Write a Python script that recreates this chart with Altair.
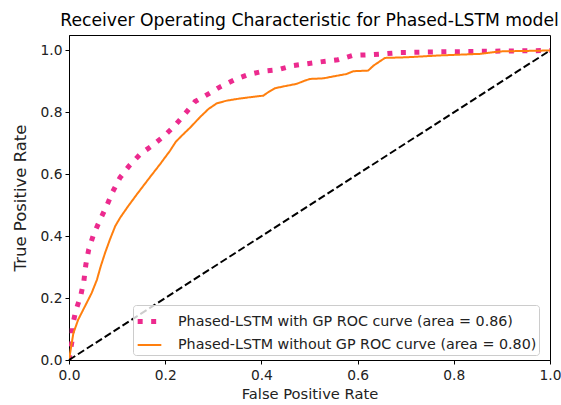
import altair as alt
import pandas as pd

LABEL_GP = "Phased-LSTM with GP ROC curve (area = 0.86)"
LABEL_NOGP = "Phased-LSTM without GP ROC curve (area = 0.80)"

gp_fpr = [0.0, 0.006, 0.007, 0.014, 0.024, 0.031, 0.035, 0.041, 0.051, 0.064, 0.078,
          0.091, 0.106, 0.125, 0.148, 0.174, 0.198, 0.220, 0.241, 0.262, 0.290, 0.316,
          0.345, 0.373, 0.404, 0.435, 0.466, 0.494, 0.527, 0.559, 0.590, 0.621, 0.654,
          0.685, 0.75, 0.85, 0.95, 1.0]
gp_tpr = [0.0, 0.059, 0.108, 0.159, 0.205, 0.256, 0.308, 0.357, 0.405, 0.451, 0.497,
          0.544, 0.589, 0.627, 0.665, 0.694, 0.724, 0.757, 0.795, 0.835, 0.860, 0.884,
          0.906, 0.922, 0.933, 0.938, 0.951, 0.957, 0.964, 0.970, 0.984, 0.986, 0.989,
          0.993, 0.995, 0.997, 0.999, 1.0]

nogp_fpr = [0.0, 0.009, 0.019, 0.033, 0.047, 0.058, 0.066, 0.075, 0.085, 0.096, 0.106,
            0.123, 0.141, 0.165, 0.189, 0.210, 0.222, 0.234, 0.252, 0.272, 0.290, 0.307,
            0.328, 0.356, 0.376, 0.404, 0.414, 0.428, 0.453, 0.473, 0.491, 0.501, 0.529,
            0.549, 0.577, 0.591, 0.622, 0.633, 0.657, 0.702, 0.771, 0.854, 0.896, 1.0]
nogp_tpr = [0.0, 0.086, 0.130, 0.173, 0.216, 0.259, 0.303, 0.346, 0.389, 0.432, 0.459,
            0.497, 0.535, 0.584, 0.632, 0.676, 0.705, 0.724, 0.751, 0.784, 0.811, 0.829,
            0.838, 0.845, 0.849, 0.854, 0.865, 0.878, 0.886, 0.892, 0.903, 0.908, 0.910,
            0.916, 0.924, 0.933, 0.935, 0.951, 0.976, 0.978, 0.984, 0.989, 0.997, 1.0]

diag = [0.0, 1.0]

rows = []
for i, (x, y) in enumerate(zip(gp_fpr, gp_tpr)):
    rows.append({"fpr": x, "tpr": y, "series": LABEL_GP, "i": i})
for i, (x, y) in enumerate(zip(nogp_fpr, nogp_tpr)):
    rows.append({"fpr": x, "tpr": y, "series": LABEL_NOGP, "i": i})
df = pd.DataFrame(rows)
df_diag = pd.DataFrame({"fpr": diag, "tpr": diag})

FONT = "DejaVu Sans"
xs = alt.Scale(domain=[0, 1.0], nice=False, zero=False)
ys = alt.Scale(domain=[0, 1.05], nice=False, zero=False)
ticks = [0.0, 0.2, 0.4, 0.6, 0.8, 1.0]

curves = alt.Chart(df).mark_line(strokeCap="butt", clip=True).encode(
    x=alt.X("fpr:Q", scale=xs,
            axis=alt.Axis(values=ticks, format=".1f", title="False Positive Rate",
                          titleFontSize=14.7, titlePadding=5, labelPadding=4)),
    y=alt.Y("tpr:Q", scale=ys,
            axis=alt.Axis(values=ticks, format=".1f", title="True Positive Rate",
                          titleFontSize=16.5, titlePadding=12, labelPadding=3)),
    order="i:Q",
    color=alt.Color("series:N", scale=alt.Scale(domain=[LABEL_GP, LABEL_NOGP],
                                                range=["#ec2a8e", "#ff7f0e"]),
                    legend=alt.Legend(
                        title=None, orient="none", legendX=64, legendY=270,
                        symbolType="stroke", symbolSize=560,
                        labelFont=FONT, labelFontSize=14.3, labelColor="#222222",
                        fillColor="rgba(255,255,255,0.8)", strokeColor="#cccccc",
                        padding=2, cornerRadius=3, rowPadding=0, labelOffset=14,
                        labelLimit=500)),
    strokeDash=alt.StrokeDash("series:N", scale=alt.Scale(domain=[LABEL_GP, LABEL_NOGP],
                                                          range=[[5, 8.5], [1, 0]]),
                              legend=None),
    strokeWidth=alt.StrokeWidth("series:N", scale=alt.Scale(domain=[LABEL_GP, LABEL_NOGP],
                                                            range=[5, 2]),
                                legend=None),
)

diagonal = alt.Chart(df_diag).mark_line(color="black", strokeWidth=2,
                                        strokeDash=[7.4, 3.2], strokeCap="butt").encode(
    x=alt.X("fpr:Q", scale=xs),
    y=alt.Y("tpr:Q", scale=ys),
)

chart = alt.layer(curves, diagonal).properties(
    width=481, height=325,
    title=alt.TitleParams("Receiver Operating Characteristic for Phased-LSTM model",
                          font=FONT, fontSize=17.2, fontWeight="normal", color="black",
                          anchor="middle", offset=6),
    autosize=alt.AutoSizeParams(type="none"),
    padding={"left": 69, "top": 35, "right": 11, "bottom": 45},
).configure_view(
    stroke="black", strokeWidth=1,
).configure_axis(
    grid=False, domainColor="black", domainWidth=1, tickColor="black", tickSize=4,
    labelFont=FONT, labelFontSize=13.8, labelColor="#222222",
    labelFlush=False,
    titleFont=FONT, titleFontWeight="normal", titleColor="#222222",
)

chart.save("out.html", embed_options={"renderer": "svg", "actions": False})
